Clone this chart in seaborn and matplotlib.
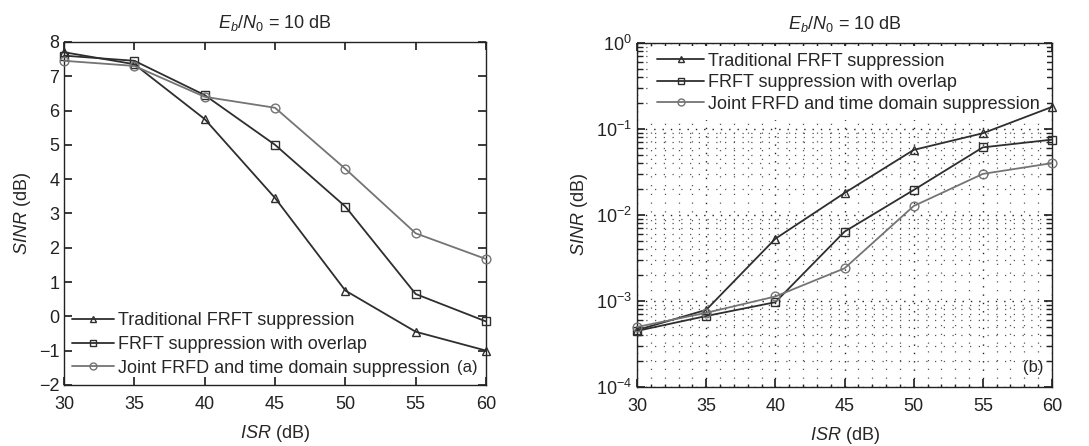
import numpy as np
import pandas as pd
import matplotlib
matplotlib.use("Agg")
import matplotlib.pyplot as plt
import seaborn as sns
from matplotlib.ticker import MultipleLocator, LogLocator, NullFormatter
from matplotlib.lines import Line2D

sns.set_theme(style="ticks")
plt.rcParams['font.family'] = ['Liberation Sans', 'DejaVu Sans']
plt.rcParams['mathtext.fontset'] = 'custom'
plt.rcParams['mathtext.rm'] = 'Liberation Sans'
plt.rcParams['mathtext.it'] = 'Liberation Sans:italic'
plt.rcParams['mathtext.bf'] = 'Liberation Sans:bold'

isr = [30, 35, 40, 45, 50, 55, 60]
names = ["Traditional FRFT suppression",
         "FRFT suppression with overlap",
         "Joint FRFD and time domain suppression"]

# Panel (a): SINR in dB
sinr_a_trad = [7.7, 7.35, 5.75, 3.45, 0.75, -0.45, -1.0]
sinr_a_overlap = [7.6, 7.45, 6.45, 5.0, 3.2, 0.65, -0.15]
sinr_a_joint = [7.45, 7.3, 6.4, 6.08, 4.3, 2.42, 1.67]

# Panel (b): log scale values
sinr_b_trad = [4.6e-4, 7.9e-4, 5.3e-3, 1.8e-2, 5.7e-2, 8.9e-2, 0.18]
sinr_b_overlap = [4.5e-4, 6.7e-4, 9.7e-4, 6.4e-3, 1.95e-2, 6.1e-2, 7.5e-2]
sinr_b_joint = [5.0e-4, 7.3e-4, 1.13e-3, 2.4e-3, 1.27e-2, 3.0e-2, 4.0e-2]

colors = ["#2e2e2e", "#2e2e2e", "#747474"]
markers = ["^", "s", "o"]

def long_df(series):
    rows = []
    for name, vals in zip(names, series):
        for x, v in zip(isr, vals):
            rows.append({"ISR": x, "SINR": v, "Method": name})
    return pd.DataFrame(rows)

df_a = long_df([sinr_a_trad, sinr_a_overlap, sinr_a_joint])
df_b = long_df([sinr_b_trad, sinr_b_overlap, sinr_b_joint])

fig = plt.figure(figsize=(10.89, 4.46), dpi=100)
ax1 = fig.add_axes([0.0588, 0.137, 0.3875, 0.769])
ax2 = fig.add_axes([0.585, 0.132, 0.381, 0.772])

palette = dict(zip(names, colors))
mk = dict(zip(names, markers))

for ax, df in [(ax1, df_a), (ax2, df_b)]:
    sns.lineplot(data=df, x="ISR", y="SINR", hue="Method", style="Method",
                 palette=palette, markers=mk, dashes=False, ax=ax,
                 linewidth=1.3, markersize=6.3, legend=False, zorder=3)
    for ln in ax.lines:
        ln.set_markerfacecolor('none')
        ln.set_markeredgecolor(ln.get_color())
        ln.set_markeredgewidth(1.0)
        ln.set_clip_on(False)

title = r"$E_b/N_0$ = 10 dB"
for ax in (ax1, ax2):
    ax.set_xlim(30, 60)
    ax.set_xticks(isr)
    ax.set_title(title, fontsize=13, pad=10)
    ax.set_xlabel(r"$ISR$ (dB)", fontsize=13, labelpad=7)
    ax.set_ylabel(r"$SINR$ (dB)", fontsize=13, labelpad=4)
    ax.tick_params(axis='both', which='both', direction='in', top=True,
                   right=True, labelsize=13, colors='#222222', labelcolor='#222222')
    ax.tick_params(axis='x', pad=8)
    for s in ax.spines.values():
        s.set_color('#222222')
        s.set_linewidth(1.0)

ax1.set_ylim(-2, 8)
ax1.set_yticks(range(-2, 9))
ax1.set_yticklabels([f"{v}".replace("-", "\u2212") for v in range(-2, 9)])

ax2.set_yscale('log')
ax2.set_ylim(1e-4, 1)
ax2.yaxis.set_major_locator(LogLocator(base=10, numticks=10))
ax2.yaxis.set_minor_locator(LogLocator(base=10, subs=np.arange(2, 10), numticks=20))
ax2.yaxis.set_minor_formatter(NullFormatter())
ax2.xaxis.set_minor_locator(MultipleLocator(1))
ax2.grid(True, which='major', linestyle=(0, (1, 5)), color='#222222', linewidth=1.0)
ax2.grid(True, which='minor', linestyle=(0, (1, 6)), color='#555555', linewidth=0.9)
ax2.tick_params(axis='x', which='minor', length=2)

handles = [Line2D([], [], color=c, marker=m, markerfacecolor='none', markersize=5,
                  linewidth=1.3, markeredgewidth=1.0) for c, m in zip(colors, markers)]
leg1 = ax1.legend(handles, names, loc='lower left', frameon=False, fontsize=13,
                  handlelength=2.3, handletextpad=0.25, labelspacing=0.38,
                  borderaxespad=0.05, bbox_to_anchor=(0.0, 0.0))
leg2 = ax2.legend(handles, names, loc='upper left', frameon=True, fontsize=13,
                  handlelength=2.6, handletextpad=0.2, labelspacing=0.25,
                  borderaxespad=0.15, bbox_to_anchor=(0.025, 1.0),
                  facecolor='white', edgecolor='white', framealpha=1.0)
leg2.get_frame().set_linewidth(0)
leg2.set_zorder(2.5)

ax1.text(0.98, 0.03, "(a)", transform=ax1.transAxes, ha='right', va='bottom', fontsize=12)
ax2.text(0.98, 0.035, "(b)", transform=ax2.transAxes, ha='right', va='bottom', fontsize=12)

fig.savefig("out.png", dpi=100)
